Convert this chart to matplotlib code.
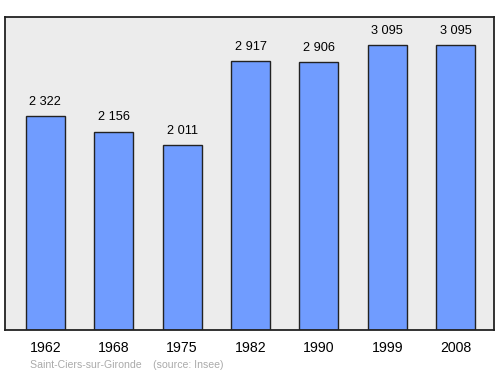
import matplotlib
matplotlib.use("Agg")
import matplotlib.pyplot as plt

years = ["1962", "1968", "1975", "1982", "1990", "1999", "2008"]
population = [2322, 2156, 2011, 2917, 2906, 3095, 3095]
value_labels = ["2 322", "2 156", "2 011", "2 917", "2 906", "3 095", "3 095"]

plt.rcParams['font.family'] = ['Liberation Sans', 'DejaVu Sans']

fig = plt.figure(figsize=(5.0, 3.74), dpi=100)
ax = fig.add_axes([5/500, 1 - 330/374, 489/500, 313/374])
ax.set_facecolor('#ececec')
x = list(range(len(years)))
ax.bar(x, population, width=0.57, color='#709cff', edgecolor='#222222', linewidth=1.0, zorder=2)
for xi, v, lab in zip(x, population, value_labels):
    ax.text(xi, v + 90, lab, ha='center', va='bottom', fontsize=9.2, color='#000000')
ax.set_xlim(-0.59, 6.56)
ax.set_ylim(0, 3400)
ax.set_yticks([])
ax.set_xticks(x)
ax.set_xticklabels(years, fontsize=10.2)
ax.tick_params(axis='x', length=0, pad=8)
for s in ax.spines.values():
    s.set_linewidth(1.3)
    s.set_color('#222222')
fig.text(30/500, 1 - 365/374, "Saint-Ciers-sur-Gironde    (source: Insee)", fontsize=7.6, color='#aaaaaa', va='center', ha='left')
fig.savefig("out.png", dpi=100)
